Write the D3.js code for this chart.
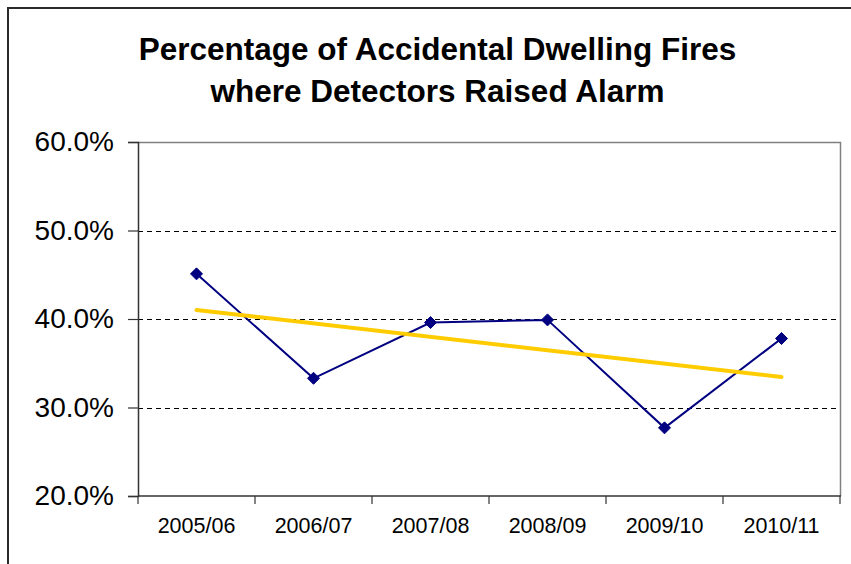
<!DOCTYPE html>
<html>
<head>
<meta charset="utf-8">
<script src="https://cdn.jsdelivr.net/npm/d3@7"></script>
<style>
  html, body { margin: 0; padding: 0; background: #fff; }
  svg { display: block; }
  text { font-family: "Liberation Sans", Arial, sans-serif; fill: #000; }
</style>
</head>
<body>
<svg id="chart" width="851" height="564"></svg>
<script>
// Financial years and the share of accidental dwelling fires where a detector raised the alarm (%)
const years = ["2005/06", "2006/07", "2007/08", "2008/09", "2009/10", "2010/11"];
const alarmPct = [45.1, 33.3, 39.6, 39.9, 27.7, 37.8];
const yTicks = [20, 30, 40, 50, 60];
const titleLines = ["Percentage of Accidental Dwelling Fires", "where Detectors Raised Alarm"];

const svg = d3.select("#chart");
const W = 851, H = 564;
const plot = { left: 138, right: 840, top: 142, bottom: 496 };

// outer chart frame (runs off the right and bottom edges)
svg.append("rect")
  .attr("x", 8).attr("y", 8)
  .attr("width", W + 20).attr("height", H + 20)
  .attr("fill", "#fff").attr("stroke", "#2b2b2b").attr("stroke-width", 2);

// title
svg.append("g").selectAll("text").data(titleLines).join("text")
  .attr("x", 437.5)
  .attr("y", (d, i) => 60 + i * 42)
  .attr("text-anchor", "middle")
  .attr("font-size", 31.5)
  .attr("font-weight", "bold")
  .text(d => d);

const x = d3.scaleBand().domain(years).range([plot.left, plot.right]).padding(0);
const y = d3.scaleLinear().domain([20, 60]).range([plot.bottom, plot.top]);

// horizontal dashed gridlines
svg.append("g").selectAll("line")
  .data(yTicks.filter(t => t > 20 && t < 60)).join("line")
  .attr("x1", plot.left).attr("x2", plot.right)
  .attr("y1", d => Math.round(y(d)) + 0.5).attr("y2", d => Math.round(y(d)) + 0.5)
  .attr("stroke", "#000").attr("stroke-width", 1)
  .attr("stroke-dasharray", "5,4");

// plot-area border on the top and right
svg.append("path")
  .attr("d", `M${plot.left},${plot.top + 0.5}H${plot.right + 0.5}V${plot.bottom}`)
  .attr("fill", "none").attr("stroke", "#808080").attr("stroke-width", 1.5);

// y axis
const yAxis = svg.append("g")
  .attr("transform", `translate(${plot.left},0)`)
  .call(d3.axisLeft(y).tickValues(yTicks).tickFormat(d => d.toFixed(1) + "%").tickSize(10).tickPadding(14));
yAxis.select(".domain").attr("stroke", "#333").attr("stroke-width", 1.5);
yAxis.selectAll(".tick line").attr("stroke", "#333").attr("stroke-width", 1.2);
yAxis.selectAll(".tick text")
  .attr("font-size", 28).attr("font-family", "Liberation Sans, Arial, sans-serif").attr("fill", "#000");

// x axis: labels centred in each band, tick marks on the band boundaries
const xAxis = svg.append("g")
  .attr("transform", `translate(0,${plot.bottom})`)
  .call(d3.axisBottom(x).tickSize(0).tickPadding(22));
xAxis.select(".domain").remove();
xAxis.selectAll(".tick text")
  .attr("font-size", 21.5).attr("font-family", "Liberation Sans, Arial, sans-serif").attr("fill", "#000");

const bounds = years.map(d => x(d)).concat([x.range()[1]]);
svg.append("line")
  .attr("x1", plot.left).attr("x2", plot.right + 1)
  .attr("y1", plot.bottom).attr("y2", plot.bottom)
  .attr("stroke", "#333").attr("stroke-width", 1.5);
svg.append("g").selectAll("line").data(bounds).join("line")
  .attr("x1", d => d).attr("x2", d => d)
  .attr("y1", plot.bottom).attr("y2", plot.bottom + 8)
  .attr("stroke", "#333").attr("stroke-width", 1.2);

const cx = d => x(d) + x.bandwidth() / 2;

// data line
svg.append("path")
  .datum(years.map((d, i) => [cx(d), y(alarmPct[i])]))
  .attr("d", d3.line())
  .attr("fill", "none").attr("stroke", "#000080").attr("stroke-width", 2);

// linear trend (least squares over the six years)
const n = alarmPct.length;
const xs = d3.range(1, n + 1);
const mx = d3.mean(xs), my = d3.mean(alarmPct);
const slope = d3.sum(xs, (v, i) => (v - mx) * (alarmPct[i] - my)) / d3.sum(xs, v => (v - mx) ** 2);
const trendAt = v => my + slope * (v - mx);
svg.append("line")
  .attr("x1", cx(years[0])).attr("y1", y(trendAt(1)))
  .attr("x2", cx(years[n - 1])).attr("y2", y(trendAt(n)))
  .attr("stroke", "#FFCC00").attr("stroke-width", 4).attr("stroke-linecap", "round");

// diamond markers
svg.append("g").selectAll("path").data(years).join("path")
  .attr("transform", (d, i) => `translate(${cx(d)},${y(alarmPct[i])})`)
  .attr("d", "M0,-6L6,0L0,6L-6,0Z")
  .attr("fill", "#000080").attr("stroke", "#000080").attr("stroke-width", 1);
</script>
</body>
</html>
